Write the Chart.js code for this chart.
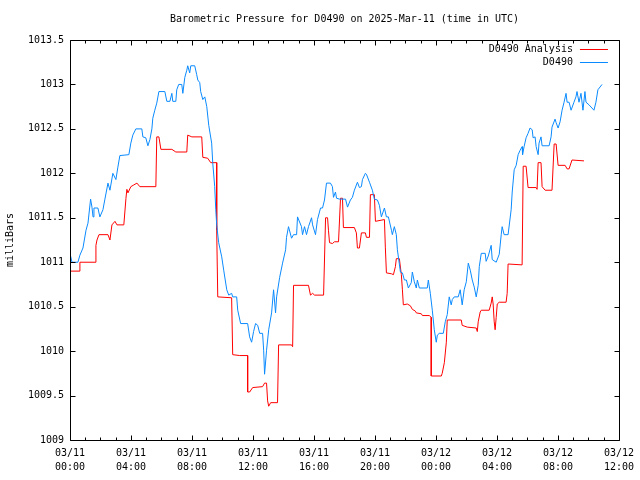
<!DOCTYPE html>
<html><head><meta charset="utf-8">
<script src="https://cdn.jsdelivr.net/npm/chart.js@4.4.1/dist/chart.umd.min.js"></script>
<style>html,body{margin:0;padding:0;background:#fff;}#wrap{width:640px;height:480px;}</style>
</head><body><div id="wrap"><canvas id="c" width="640" height="480"></canvas></div>
<script>
const chartTitle = 'Barometric Pressure for D0490 on 2025-Mar-11 (time in UTC)';
const yAxisLabel = 'milliBars';
const seriesNames = ['D0490 Analysis', 'D0490'];
const seriesColors = ['#ff0000', '#0a8aff'];
const dayLabels = ['03/11', '03/12'];
const hourRange = [0, 36];
const majorStepHours = 4;
const minorStepHours = 1;
const pressureRange = [1009, 1013.5];
const pressureStep = 0.5;

// D0490 Analysis (hours since 03/11 00:00 UTC, mb)
const analysisHours = [0.00,0.65,0.65,1.64,1.70,1.77,1.90,2.49,2.62,2.75,
2.95,3.08,3.53,3.67,3.73,3.80,3.99,4.19,4.39,4.58,
5.63,5.69,5.83,5.96,6.68,6.94,7.66,7.72,7.99,8.64,
8.71,9.03,9.23,9.62,9.62,9.69,10.60,10.67,11.13,11.65,
11.65,11.78,11.98,12.63,12.76,12.89,12.96,13.03,13.16,13.61,
13.68,14.53,14.60,14.66,15.64,15.77,15.91,16.04,16.63,16.76,
16.89,16.95,17.02,17.21,17.34,17.61,17.74,17.87,17.93,18.65,
18.78,18.85,18.98,19.11,19.37,19.44,19.64,19.70,19.96,20.03,
20.62,20.68,20.75,21.08,21.21,21.34,21.40,21.60,21.73,21.80,
21.86,22.12,22.32,22.45,22.65,22.71,23.04,23.11,23.56,23.69,
23.69,24.35,24.41,24.55,24.68,24.74,25.66,25.72,26.05,26.64,
26.71,26.77,26.90,26.97,27.49,27.62,27.69,27.75,27.82,27.88,
27.95,28.02,28.15,28.60,28.67,28.73,29.65,29.72,29.91,30.04,
30.57,30.63,30.70,30.89,30.96,31.16,31.61,31.75,31.88,32.01,
32.47,32.60,32.73,32.92,33.71];
const analysisMb = [1010.90,1010.90,1011.00,1011.00,1011.19,1011.25,1011.31,1011.31,1011.25,1011.42,
1011.46,1011.42,1011.42,1011.72,1011.82,1011.78,1011.85,1011.87,1011.89,1011.85,
1011.85,1012.41,1012.41,1012.27,1012.27,1012.24,1012.24,1012.43,1012.41,1012.41,
1012.18,1012.17,1012.12,1012.12,1011.36,1010.61,1010.60,1009.96,1009.95,1009.95,
1009.54,1009.54,1009.59,1009.60,1009.64,1009.64,1009.44,1009.38,1009.42,1009.42,
1010.07,1010.07,1010.05,1010.74,1010.74,1010.63,1010.65,1010.63,1010.63,1011.50,
1011.50,1011.36,1011.22,1011.21,1011.23,1011.23,1011.72,1011.72,1011.39,1011.39,
1011.33,1011.16,1011.16,1011.33,1011.33,1011.28,1011.28,1011.76,1011.76,1011.46,
1011.48,1011.17,1010.88,1010.87,1010.86,1010.95,1011.04,1011.04,1010.86,1010.69,
1010.52,1010.53,1010.51,1010.47,1010.45,1010.43,1010.42,1010.40,1010.40,1010.38,
1009.72,1009.72,1009.75,1009.87,1010.10,1010.35,1010.35,1010.29,1010.27,1010.26,
1010.22,1010.33,1010.44,1010.46,1010.46,1010.54,1010.61,1010.53,1010.33,1010.24,
1010.38,1010.53,1010.55,1010.55,1010.65,1010.98,1010.97,1012.08,1012.08,1011.84,
1011.84,1011.82,1012.12,1012.12,1011.85,1011.81,1011.81,1012.33,1012.33,1012.09,
1012.09,1012.05,1012.05,1012.15,1012.14];

// D0490 observations
const obsHours = [0,0.13,0.52,0.65,0.85,1.05,1.18,1.35,1.44,1.51,
1.57,1.83,1.96,2.16,2.29,2.49,2.62,2.81,3.01,3.14,
3.27,3.86,3.99,4.12,4.32,4.71,4.78,4.97,5.11,5.24,
5.37,5.43,5.56,5.69,5.83,6.22,6.35,6.55,6.68,6.74,
6.94,7.00,7.13,7.33,7.40,7.53,7.66,7.72,7.85,7.92,
8.18,8.31,8.38,8.51,8.57,8.71,8.84,8.97,9.10,9.29,
9.36,9.49,9.56,9.62,9.75,9.95,10.08,10.28,10.41,10.60,
10.67,10.93,11.00,11.19,11.65,11.78,11.91,12.04,12.17,12.31,
12.44,12.63,12.70,12.76,12.89,13.03,13.22,13.35,13.48,13.55,
13.75,13.94,14.14,14.20,14.33,14.53,14.66,14.86,14.92,15.18,
15.25,15.38,15.51,15.64,15.84,15.91,16.10,16.23,16.43,16.56,
16.69,16.82,17.08,17.21,17.28,17.41,17.48,17.67,18.07,18.20,
18.39,18.52,18.65,18.85,18.98,19.11,19.18,19.37,19.44,19.64,
19.83,19.96,20.16,20.29,20.42,20.62,20.75,20.88,21.08,21.14,
21.27,21.40,21.47,21.67,21.80,21.93,22.06,22.19,22.38,22.45,
22.58,22.71,22.78,22.91,23.43,23.50,23.63,23.76,23.89,24.02,
24.09,24.22,24.48,24.61,24.74,24.87,25.00,25.07,25.20,25.46,
25.59,25.72,25.85,25.99,26.12,26.25,26.38,26.51,26.64,26.77,
26.84,26.97,27.23,27.29,27.43,27.62,27.69,27.95,28.15,28.28,
28.34,28.47,28.73,28.93,29.00,29.13,29.26,29.39,29.52,29.65,
29.68,29.78,29.91,30.04,30.17,30.31,30.37,30.50,30.57,30.70,
30.76,30.89,30.96,31.42,31.55,31.61,31.81,31.88,32.01,32.14,
32.27,32.40,32.53,32.60,32.73,32.86,32.92,33.05,33.18,33.25,
33.38,33.51,33.64,33.77,33.84,34.04,34.36,34.49,34.62,34.89];
const obsMb = [1011.10,1011.00,1011.00,1011.08,1011.16,1011.36,1011.44,1011.71,1011.62,1011.51,
1011.61,1011.61,1011.51,1011.59,1011.71,1011.89,1011.81,1012.00,1011.93,1012.07,
1012.20,1012.21,1012.34,1012.43,1012.50,1012.50,1012.41,1012.40,1012.31,1012.38,
1012.50,1012.62,1012.71,1012.79,1012.92,1012.92,1012.81,1012.81,1012.90,1012.81,
1012.81,1012.94,1013.00,1013.00,1012.90,1013.08,1013.16,1013.21,1013.13,1013.21,
1013.21,1013.11,1013.05,1013.02,1012.92,1012.83,1012.86,1012.75,1012.54,1012.34,
1012.12,1011.85,1011.59,1011.42,1011.22,1011.06,1010.91,1010.69,1010.63,1010.65,
1010.61,1010.61,1010.46,1010.31,1010.31,1010.16,1010.10,1010.22,1010.31,1010.29,
1010.20,1010.20,1010.01,1009.74,1010.01,1010.24,1010.43,1010.69,1010.43,1010.61,
1010.83,1010.99,1011.14,1011.28,1011.40,1011.27,1011.31,1011.31,1011.51,1011.40,
1011.31,1011.40,1011.31,1011.40,1011.50,1011.42,1011.31,1011.48,1011.61,1011.61,
1011.70,1011.89,1011.89,1011.85,1011.73,1011.79,1011.72,1011.71,1011.71,1011.62,
1011.70,1011.73,1011.81,1011.90,1011.84,1011.85,1011.93,1012.00,1011.99,1011.90,
1011.81,1011.71,1011.70,1011.64,1011.51,1011.61,1011.51,1011.51,1011.36,1011.31,
1011.40,1011.31,1011.14,1010.89,1010.88,1010.80,1010.80,1010.71,1010.77,1010.89,
1010.78,1010.71,1010.80,1010.71,1010.71,1010.80,1010.65,1010.46,1010.24,1010.10,
1010.18,1010.20,1010.20,1010.33,1010.41,1010.61,1010.52,1010.58,1010.61,1010.61,
1010.69,1010.52,1010.69,1010.78,1010.99,1010.91,1010.80,1010.72,1010.61,1010.74,
1010.95,1011.10,1011.10,1011.01,1011.07,1011.19,1011.03,1011.00,1011.09,1011.31,
1011.40,1011.31,1011.31,1011.59,1011.79,1012.04,1012.09,1012.21,1012.26,1012.30,
1012.21,1012.30,1012.40,1012.45,1012.51,1012.49,1012.40,1012.41,1012.30,1012.21,
1012.34,1012.41,1012.31,1012.31,1012.41,1012.52,1012.61,1012.57,1012.51,1012.58,
1012.71,1012.80,1012.90,1012.80,1012.80,1012.71,1012.71,1012.80,1012.86,1012.92,
1012.80,1012.90,1012.71,1012.92,1012.80,1012.77,1012.71,1012.80,1012.94,1013.00];

const FONT = "'DejaVu Sans Mono', monospace";
Chart.defaults.font.family = FONT;
Chart.defaults.font.size = 10;
Chart.defaults.color = '#000';

const toPoints = (xs, ys) => xs.map((x, i) => ({x: x, y: ys[i]}));

const gnuplotFrame = {
  id: 'gnuplotFrame',
  afterDraw(chart) {
    const {ctx, chartArea: a, scales} = chart;
    const xs = scales.x, ys = scales.y;
    const L = Math.round(a.left) + 0.5, R = Math.round(a.right) + 0.5;
    const T = Math.round(a.top) + 0.5, B = Math.round(a.bottom) + 0.5;
    ctx.save();
    ctx.strokeStyle = '#000';
    ctx.lineWidth = 1;
    ctx.beginPath();
    ctx.rect(L, T, R - L, B - T);
    for (let h = xs.min; h <= xs.max; h += minorStepHours) {
      const px = Math.round(xs.getPixelForValue(h)) + 0.5;
      const len = (h % majorStepHours === 0) ? 5 : 3;
      ctx.moveTo(px, B); ctx.lineTo(px, B - len);
      ctx.moveTo(px, T); ctx.lineTo(px, T + len);
    }
    ys.ticks.forEach(t => {
      const py = Math.round(ys.getPixelForValue(t.value)) + 0.5;
      ctx.moveTo(L, py); ctx.lineTo(L + 5, py);
      ctx.moveTo(R, py); ctx.lineTo(R - 5, py);
    });
    ctx.stroke();
    ctx.font = "10px " + FONT;
    ctx.textAlign = 'right';
    ctx.textBaseline = 'middle';
    chart.data.datasets.forEach((ds, i) => {
      const y = Math.round(a.top + 9 + 13 * i) + 0.5;
      ctx.fillStyle = '#000';
      ctx.fillText(ds.label, a.right - 46, y);
      ctx.strokeStyle = ds.borderColor;
      ctx.beginPath();
      ctx.moveTo(a.right - 39, y);
      ctx.lineTo(a.right - 11, y);
      ctx.stroke();
    });
    ctx.restore();
  }
};

new Chart(document.getElementById('c'), {
  type: 'line',
  data: {
    datasets: [
      { label: seriesNames[0], data: toPoints(analysisHours, analysisMb), borderColor: seriesColors[0],
        backgroundColor: seriesColors[0], borderWidth: 1, pointRadius: 0, tension: 0, fill: false, order: 1 },
      { label: seriesNames[1], data: toPoints(obsHours, obsMb), borderColor: seriesColors[1],
        backgroundColor: seriesColors[1], borderWidth: 1, pointRadius: 0, tension: 0, fill: false, order: 0 }
    ]
  },
  options: {
    responsive: false,
    devicePixelRatio: 1,
    animation: false,
    layout: { padding: { left: 0, right: 19, top: 0, bottom: 0 } },
    plugins: {
      legend: { display: false },
      tooltip: { enabled: false },
      title: { display: true, text: chartTitle, fullSize: false, color: '#000',
        font: { family: FONT, size: 10, weight: 'normal' }, padding: { top: 13, bottom: 15 } }
    },
    scales: {
      x: {
        type: 'linear', min: hourRange[0], max: hourRange[1],
        grid: { display: false, drawTicks: false },
        border: { display: false },
        ticks: {
          stepSize: majorStepHours, padding: 6, maxRotation: 0, autoSkip: false, color: '#000',
          font: { family: FONT, size: 10, lineHeight: 1.4 },
          callback: (v) => {
            const h = Math.round(v);
            return [dayLabels[Math.min(Math.floor(h / 24), dayLabels.length - 1)],
                    String(h % 24).padStart(2, '0') + ':00'];
          }
        },
        afterFit: (s) => { s.height = 40; }
      },
      y: {
        type: 'linear', min: pressureRange[0], max: pressureRange[1],
        grid: { display: false, drawTicks: false },
        border: { display: false },
        ticks: { stepSize: pressureStep, padding: 6, color: '#000', font: { family: FONT, size: 10 },
          callback: (v) => String(Number(Number(v).toFixed(1))) },
        title: { display: true, text: yAxisLabel, color: '#000', font: { family: FONT, size: 10 },
          padding: { top: 4, bottom: 4 } },
        afterFit: (s) => { s.width = 70; }
      }
    }
  },
  plugins: [gnuplotFrame]
});
</script>
</body></html>
